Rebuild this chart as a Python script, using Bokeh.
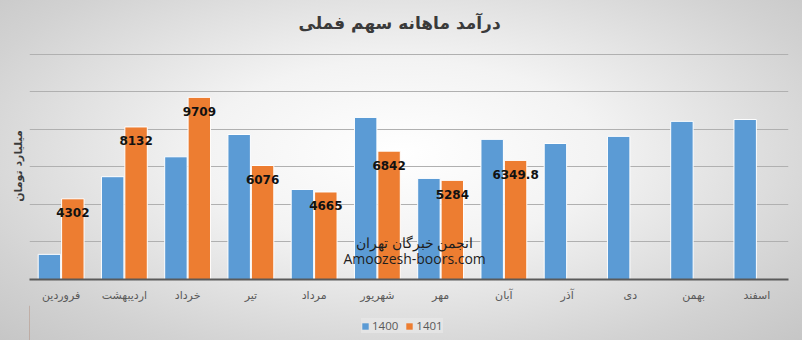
from bokeh.plotting import figure
from bokeh.models import (ColumnDataSource, LabelSet, Legend, LegendItem,
                          FactorRange, Range1d, FixedTicker)
from bokeh.layouts import column
from bokeh.transform import dodge
from bokeh.core.properties import value
from bokeh.embed import file_html
from bokeh.resources import INLINE

months = ["فروردین", "اردیبهشت", "خرداد", "تیر", "مرداد", "شهریور",
          "مهر", "آبان", "آذر", "دی", "بهمن", "اسفند"]
rev_1400 = [1340, 5480, 6540, 7730, 4800, 8640, 5390, 7470, 7250, 7630, 8430, 8530]
months_1401 = months[:8]
rev_1401 = [4302, 8132, 9709, 6076, 4665, 6842, 5284, 6349.8]
labels_1401 = ["4302", "8132", "9709", "6076", "4665", "6842", "5284", "6349.8"]
y_ticks = [0, 2000, 4000, 6000, 8000, 10000, 12000]
series_names = ["1400", "1401"]
series_colors = ["#5b9bd5", "#ed7d31"]

title_text = "درآمد ماهانه سهم فملی"
y_label = "میلیارد تومان"
watermark = ["انجمن خبرگان تهران", "Amoozesh-boors.com"]
watermark_y = [1960, 1120]

FA = "DejaVu Sans"

# title strip
pt = figure(width=802, height=40, output_backend="svg", toolbar_location=None,
            x_range=Range1d(0, 802), y_range=Range1d(0, 40), min_border=0)
pt.axis.visible = False
pt.grid.visible = False
pt.outline_line_color = None
pt.background_fill_alpha = 0
pt.border_fill_alpha = 0
pt.text(x=[391], y=[18], text=[title_text], text_align="center",
        text_baseline="middle", text_font=value(FA), text_font_size="17px",
        text_font_style="bold", text_color="#3a3a3a")

p = figure(width=802, height=265, output_backend="svg", toolbar_location=None,
           x_range=FactorRange(factors=months, range_padding=0),
           y_range=Range1d(0, 12100),
           min_border_left=29, min_border_right=14, min_border_top=12,
           min_border_bottom=26)

p.background_fill_alpha = 0
p.border_fill_alpha = 0
p.outline_line_color = None

src1 = ColumnDataSource(dict(month=months, val=rev_1400))
src2 = ColumnDataSource(dict(month=months_1401, val=rev_1401, lab=labels_1401))

r1 = p.vbar(x=dodge("month", -0.185, range=p.x_range), top="val", width=0.355,
            source=src1, fill_color=series_colors[0], line_color="white", line_width=1)
r2 = p.vbar(x=dodge("month", 0.185, range=p.x_range), top="val", width=0.355,
            source=src2, fill_color=series_colors[1], line_color="white", line_width=1)

labels = LabelSet(x=dodge("month", 0.185, range=p.x_range), y="val", text="lab",
                  source=src2, text_align="center", text_baseline="middle",
                  y_offset=-14, text_font=value(FA), text_font_size="12px",
                  text_font_style="bold", text_color="#111111")
p.add_layout(labels)

wm = ColumnDataSource(dict(x=["مهر", "مهر"], y=watermark_y, t=watermark))
p.text(x="x", y="y", text="t", source=wm, x_offset=-26, text_align="center",
       text_baseline="middle", text_font=value("Open Sans"),
       text_font_size="14px", text_color="#1e1e1e")

p.ygrid.ticker = FixedTicker(ticks=y_ticks)
p.ygrid.grid_line_color = "#b0b0b0"
p.xgrid.grid_line_color = None

p.yaxis.ticker = FixedTicker(ticks=[])
p.yaxis.axis_line_color = None
p.yaxis.major_tick_line_color = None
p.yaxis.minor_tick_line_color = None
p.yaxis.major_tick_out = 0
p.yaxis.major_tick_in = 0
p.yaxis.major_label_standoff = 0
p.yaxis.axis_label = y_label
p.yaxis.axis_label_text_font = FA
p.yaxis.axis_label_text_font_size = "11px"
p.yaxis.axis_label_text_font_style = "bold"
p.yaxis.axis_label_text_color = "#3a3a3a"
p.yaxis.axis_label_standoff = 5

p.xaxis.axis_line_color = "#5a5a5a"
p.xaxis.axis_line_width = 2
p.xaxis.major_tick_line_color = None
p.xaxis.minor_tick_line_color = None
p.xaxis.major_tick_out = 0
p.xaxis.major_tick_in = 0
p.xaxis.major_label_text_font = FA
p.xaxis.major_label_text_font_size = "11px"
p.xaxis.major_label_text_color = "#595959"
p.xaxis.major_label_standoff = 9

# legend strip below the chart
pl = figure(width=802, height=35, output_backend="svg", toolbar_location=None,
            x_range=Range1d(0, 1), y_range=Range1d(0, 1),
            min_border=0)
pl.axis.visible = False
pl.grid.visible = False
pl.outline_line_color = None
pl.background_fill_alpha = 0
pl.border_fill_alpha = 0
lr1 = pl.vbar(x=[-5], top=[1], width=0.1, fill_color=series_colors[0], line_color=None)
lr2 = pl.vbar(x=[-5], top=[1], width=0.1, fill_color=series_colors[1], line_color=None)
legend = Legend(items=[LegendItem(label=series_names[0], renderers=[lr1]),
                       LegendItem(label=series_names[1], renderers=[lr2])],
                orientation="horizontal", location=(332, 7),
                background_fill_color="#e8e8e8", background_fill_alpha=0.7,
                border_line_color=None, glyph_width=8, glyph_height=8,
                label_text_font="Open Sans", label_text_font_size="11.5px",
                label_text_color="#595959", label_standoff=3, spacing=7,
                padding=5, margin=0, label_height=12)
pl.add_layout(legend)

lay = column(pt, p, pl, spacing=0, styles={
    "background": "radial-gradient(ellipse at 50% 45%, #ffffff 0%, #f3f3f3 35%, #d2d2d2 80%, #c6c6c6 100%)"})

open("out.html", "w").write(file_html(lay, INLINE))
